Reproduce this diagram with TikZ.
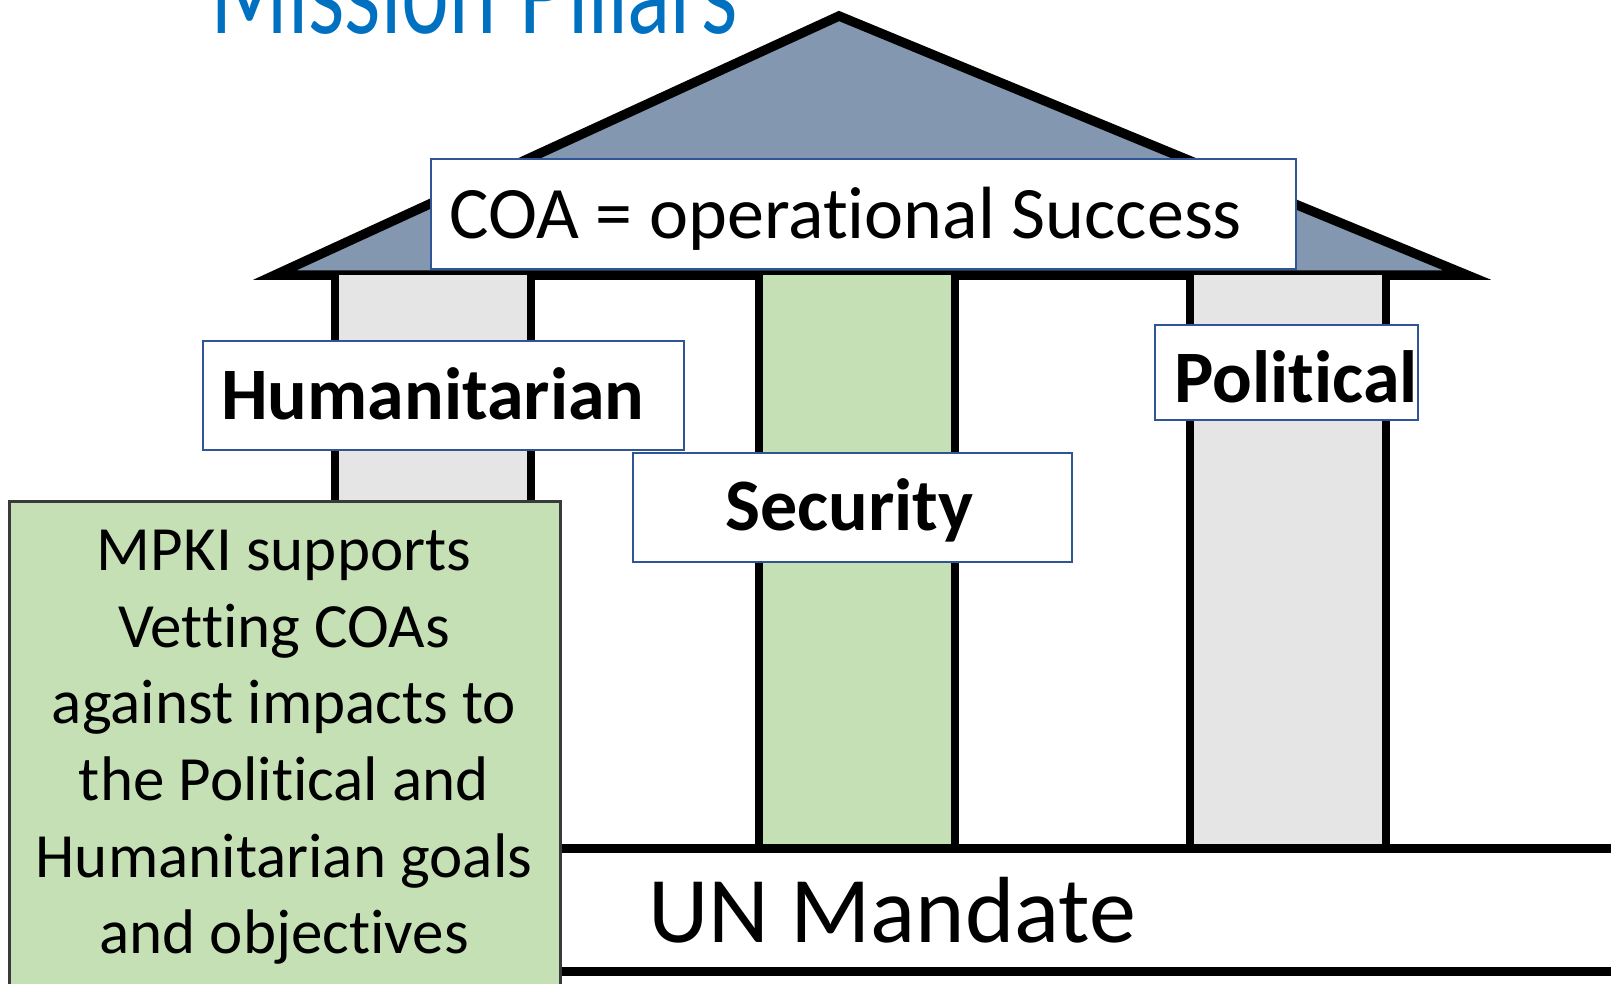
\documentclass[tikz,border=0pt]{standalone}
\usepackage{fontspec}
\setmainfont{Carlito}[Ligatures=CommonOff]
\newfontfamily\titlefont{Lato}[Ligatures=CommonOff]
\definecolor{roofc}{HTML}{8497B0}
\definecolor{pgray}{HTML}{E5E5E5}
\definecolor{pgreen}{HTML}{C5E0B4}
\definecolor{bblue}{HTML}{2F5597}
\definecolor{tblue}{HTML}{0070C0}
\definecolor{gborder}{HTML}{3A3A3A}
\tikzset{
  heavy/.style={line width=9.5pt, black},
  pillarline/.style={line width=8pt, black},
  labelbox/.style={draw=bblue, line width=2pt, fill=white, inner sep=0pt, anchor=north west},
  txt/.style={inner sep=0pt, anchor=base west, text=black},
}
\begin{document}
\begin{tikzpicture}[x=1pt,y=-1pt]
\useasboundingbox (0,0) rectangle (1611,983);
\clip (0,0) rectangle (1611,983);
% title
\node[inner sep=0pt, anchor=base west, text=tblue] (title) at (210,33) {\scalebox{1}[1.4]{\resizebox{527pt}{!}{\titlefont Mission Pillars}}};
% roof
\coordinate (apex) at (839,16);
\coordinate (rl) at (275,275);
\coordinate (rr) at (1467,275);
\draw[heavy, fill=roofc, line join=miter] (rl) -- (apex) -- (rr) -- cycle;
% pillars
\fill[pgray] (335,275) rectangle (531,849);
\fill[pgreen] (759,275) rectangle (955,849);
\fill[pgray] (1190,275) rectangle (1386,849);
\foreach \x in {335,531,759,955,1190,1386}{
  \draw[pillarline] (\x,275) -- (\x,849);
}
% base
\coordinate (bt1) at (540,848.5);
\coordinate (bt2) at (1620,848.5);
\coordinate (bb1) at (540,971.5);
\coordinate (bb2) at (1620,971.5);
\draw[heavy] (bt1) -- (bt2);
\draw[heavy] (bb1) -- (bb2);
\node[txt, font=\fontsize{94}{110}\selectfont] (un) at (648,942) {UN Mandate};
% label boxes
\node[labelbox, minimum width=865pt, minimum height=110pt] (coabox) at (430,158) {};
\node[txt, font=\fontsize{74}{88}\selectfont] (coa) at (449,238) {COA = operational Success};
\node[labelbox, minimum width=481pt, minimum height=109pt] (humbox) at (202,340) {};
\node[txt, font=\fontsize{74}{88}\selectfont\bfseries] (hum) at (221,419) {Humanitarian};
\node[labelbox, minimum width=439pt, minimum height=109pt] (secbox) at (632,452) {};
\node[txt, font=\fontsize{74}{88}\selectfont\bfseries] (sec) at (725,530) {Security};
\node[labelbox, minimum width=263pt, minimum height=95pt] (polbox) at (1154,324) {};
\node[txt, font=\fontsize{74}{88}\selectfont\bfseries] (pol) at (1174,402) {Political};
% MPKI box
\node[draw=gborder, line width=2.5pt, fill=pgreen, inner sep=0pt, anchor=north west, minimum width=551pt, minimum height=520pt] (mpkibox) at (8,500) {};
\node[inner sep=0pt, anchor=north, align=center, font=\fontsize{63}{76.6}\selectfont] (mpki) at (284,530) {MPKI supports\\Vetting COAs\\against impacts to\\the Political and\\Humanitarian goals\\and objectives};
\end{tikzpicture}
\end{document}
